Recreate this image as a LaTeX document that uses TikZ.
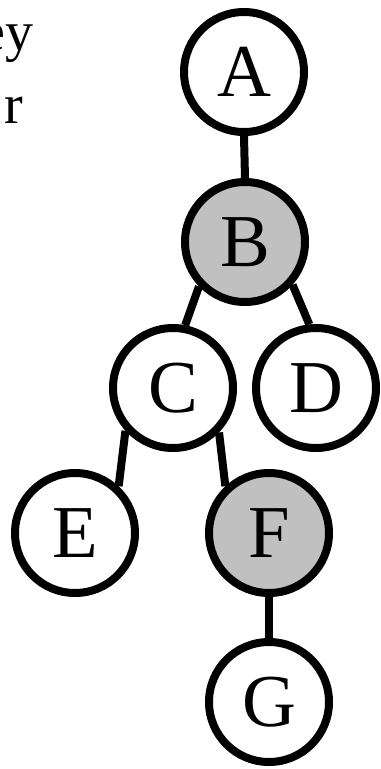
\documentclass[tikz,border=0pt]{standalone}
\usepackage{fontspec}
\setmainfont{Liberation Serif}
\definecolor{nodegray}{HTML}{C0C0C0}
\begin{document}
\begin{tikzpicture}[x=0.75pt,y=-0.75pt,
  vert/.style={circle,draw=black,line width=6pt,minimum size=90pt,inner sep=0pt,fill=white,font=\fontsize{56}{60}\selectfont},
  shaded/.style={vert,fill=nodegray},
  edge/.style={line width=6pt,draw=black},
  txt/.style={inner sep=0pt,font=\fontsize{42}{50}\selectfont}]
\useasboundingbox (0,0) rectangle (381,769);
\node[vert]   (A) at (244,72)  {A};
\node[shaded] (B) at (245,242) {B};
\node[vert]   (C) at (173,388) {C};
\node[vert]   (D) at (316,388) {D};
\node[vert]   (E) at (75,533)  {E};
\node[shaded] (F) at (269,533) {F};
\node[vert]   (G) at (269,702) {G};
\node[txt,anchor=base east] (t1) at (34,50) {ey};
\node[txt,anchor=base east] (t2) at (23,123) {r};
\begin{scope}[on background layer/.try]
\end{scope}
\draw[edge] (A.south) -- (B.north);
\draw[edge] (B.-136) -- (C.79);
\draw[edge] (B.-42) -- (D.96);
\draw[edge] (C.-138) -- (E.47);
\draw[edge] (C.-44) -- (F.133);
\draw[edge] (F.south) -- (G.north);
\end{tikzpicture}
\end{document}
